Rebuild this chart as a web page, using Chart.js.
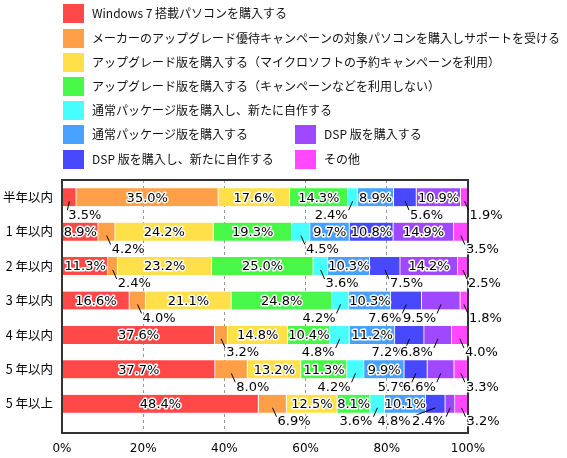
<!DOCTYPE html>
<html>
<head>
<meta charset="utf-8">
<script src="https://cdn.jsdelivr.net/npm/chart.js@4.4.1/dist/chart.umd.min.js"></script>
<style>
html, body { margin: 0; padding: 0; background: #fff; }
#wrap { width: 567px; height: 458px; }
</style>
</head>
<body>
<div id="wrap"><canvas id="myChart"></canvas></div>
<script>
// categories (rows, top to bottom)
const categories = ['半年以内', '1 年以内', '2 年以内', '3 年以内', '4 年以内', '5 年以内', '5 年以上'];

const seriesNames = [
  'Windows 7 搭載パソコンを購入する',
  'メーカーのアップグレード優待キャンペーンの対象パソコンを購入しサポートを受ける',
  'アップグレード版を購入する（マイクロソフトの予約キャンペーンを利用）',
  'アップグレード版を購入する（キャンペーンなどを利用しない）',
  '通常パッケージ版を購入し、新たに自作する',
  '通常パッケージ版を購入する',
  'DSP 版を購入し、新たに自作する',
  'DSP 版を購入する',
  'その他'
];

// values in %, one array per series, same order as categories
const windows7 = [3.5, 8.9, 11.3, 16.6, 37.6, 37.7, 48.4];
const makerUpgrade = [35.0, 4.2, 2.4, 4.0, 3.2, 8.0, 6.9];
const upgradeReserve = [17.6, 24.2, 23.2, 21.1, 14.8, 13.2, 12.5];
const upgradeNormal = [14.3, 19.3, 25.0, 24.8, 10.4, 11.3, 8.1];
const packageDiy = [2.4, 4.5, 3.6, 4.2, 4.8, 4.2, 3.6];
const packageBuy = [8.9, 9.7, 10.3, 10.3, 11.2, 9.9, 10.1];
const dspDiy = [5.6, 10.8, 7.5, 7.6, 7.2, 5.7, 4.8];
const dspBuy = [10.9, 14.9, 14.2, 9.5, 6.8, 6.6, 2.4];
const others = [1.9, 3.5, 2.5, 1.8, 4.0, 3.3, 3.2];

const xTickValues = [0, 20, 40, 60, 80, 100];

const seriesValues = [windows7, makerUpgrade, upgradeReserve, upgradeNormal, packageDiy, packageBuy, dspDiy, dspBuy, others];
const colors = ['#ff4848', '#ffa048', '#ffe048', '#48f848', '#48ffff', '#48a0ff', '#4848ff', '#a048ff', '#ff48ff'];

// small segments get their label under the bar: row-series -> side
const outsideLabels = {
  '0-0': 'r', '0-4': 'l', '0-6': 'r', '0-8': 'r',
  '1-1': 'r', '1-4': 'r', '1-8': 'r',
  '2-1': 'r', '2-4': 'r', '2-6': 'r', '2-8': 'r',
  '3-1': 'r', '3-4': 'l', '3-6': 'l', '3-7': 'l', '3-8': 'r',
  '4-1': 'r', '4-4': 'l', '4-6': 'l', '4-7': 'l', '4-8': 'r',
  '5-1': 'r', '5-4': 'l', '5-6': 'l', '5-7': 'l', '5-8': 'r',
  '6-1': 'r', '6-4': 'l', '6-6': 'l', '6-7': 'l', '6-8': 'r'
};
const labelShift = { '0-0': -6, '6-6': -20 };

// legend slots: [x of box, y of box]
const legendSlots = [[63, 4], [63, 29], [63, 53], [63, 77], [63, 101], [63, 125], [63, 150], [295, 125], [295, 150]];

const datasets = seriesValues.map((vals, i) => ({
  label: seriesNames[i],
  data: vals.map((v, j) => ({ x: v, y: j })),
  backgroundColor: colors[i],
  borderColor: '#fff',
  borderWidth: { left: 0, right: 1, top: 0, bottom: 0 },
  borderSkipped: false,
  barThickness: 18
}));

const legendPlugin = {
  id: 'boxLegend',
  afterDraw(chart) {
    const ctx = chart.ctx;
    ctx.save();
    ctx.font = '12px "Noto Sans CJK JP"';
    ctx.textBaseline = 'middle';
    ctx.textAlign = 'left';
    chart.data.datasets.forEach((ds, i) => {
      const [bx, by] = legendSlots[i];
      ctx.fillStyle = ds.backgroundColor;
      ctx.fillRect(bx, by, 21, 19);
      ctx.fillStyle = '#111';
      ctx.fillText(ds.label, bx + 29, by + 9.5);
    });
    ctx.restore();
  }
};

const labelPlugin = {
  id: 'barLabels',
  afterDatasetsDraw(chart) {
    const ctx = chart.ctx;
    const a = chart.chartArea;
    ctx.save();
    // frame
    ctx.strokeStyle = '#333';
    ctx.lineWidth = 2;
    ctx.strokeRect(a.left, a.top, a.right - a.left, a.bottom - a.top);

    ctx.font = '13px "DejaVu Sans"';
    ctx.lineJoin = 'round';
    chart.data.datasets.forEach((ds, i) => {
      chart.getDatasetMeta(i).data.forEach((bar, j) => {
        const p = bar.getProps(['x', 'y', 'base', 'height'], true);
        const c = (p.x + p.base) / 2;
        const bottom = p.y + p.height / 2;
        const txt = seriesValues[i][j].toFixed(1) + '%';
        const key = j + '-' + i;
        const side = outsideLabels[key];
        let tx, ty;
        if (!side) {
          ctx.textAlign = 'center';
          tx = c; ty = p.y + 1;
        } else {
          const dir = side === 'r' ? 1 : -1;
          const shift = labelShift[key] || 0;
          const x2 = c + dir * 4 + shift, y2 = bottom + 4;
          ctx.strokeStyle = '#000';
          ctx.lineWidth = 1;
          ctx.beginPath();
          ctx.moveTo(c, bottom - 5);
          ctx.lineTo(x2, y2);
          ctx.stroke();
          ctx.textAlign = dir > 0 ? 'left' : 'right';
          tx = x2 + dir; ty = bottom + 9;
        }
        ctx.textBaseline = 'middle';
        ctx.strokeStyle = '#fff';
        ctx.lineWidth = 3;
        ctx.strokeText(txt, tx, ty);
        ctx.fillStyle = '#000';
        ctx.fillText(txt, tx, ty);
      });
    });
    ctx.restore();
  }
};

const config = {
  type: 'bar',
  data: { datasets: datasets },
  options: {
    indexAxis: 'y',
    responsive: true,
    maintainAspectRatio: false,
    animation: false,
    color: '#000',
    layout: { padding: { top: 180, right: 99, left: 0, bottom: 0 } },
    plugins: {
      legend: { display: false },
      tooltip: { enabled: false }
    },
    scales: {
      x: {
        type: 'linear',
        stacked: true,
        min: 0,
        max: 100,
        afterBuildTicks(scale) {
          scale.ticks = xTickValues.map(v => ({ value: v }));
        },
        afterFit(scale) { scale.height = 25; },
        ticks: {
          color: '#000',
          padding: 9,
          font: { family: 'DejaVu Sans', size: 12 },
          callback: v => v + '%'
        },
        grid: {
          drawTicks: false,
          tickLength: 0,
          color: c => (c.tick && (c.tick.value === 0 || c.tick.value === 100)) ? 'rgba(0,0,0,0)' : '#999',
          lineWidth: 1
        },
        border: { display: false, dash: [3, 3] }
      },
      y: {
        type: 'linear',
        stacked: true,
        reverse: true,
        offset: false,
        min: -0.5,
        max: 6.85,
        afterFit(scale) { scale.width = 62; },
        ticks: {
          stepSize: 1,
          includeBounds: false,
          autoSkip: false,
          color: '#000',
          padding: 9,
          font: { family: 'Noto Sans CJK JP', size: 12.5 },
          callback: v => (Number.isInteger(v) && categories[v]) || ''
        },
        grid: { display: false, drawTicks: false, tickLength: 0, offset: false },
        border: { display: false }
      }
    }
  },
  plugins: [legendPlugin, labelPlugin]
};

const myChart = new Chart('myChart', config);
</script>
</body>
</html>
